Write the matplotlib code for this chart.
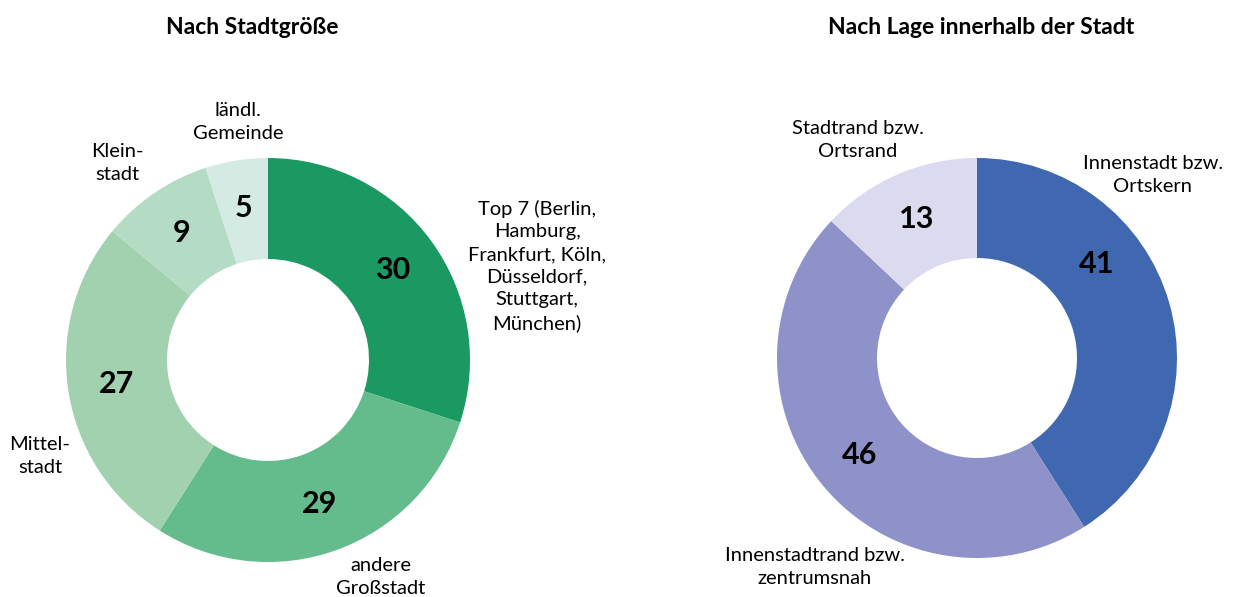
import numpy as np
import matplotlib
matplotlib.use("Agg")
import matplotlib.pyplot as plt

plt.rcParams["font.family"] = ["Lato", "DejaVu Sans"]

# data
size_titles = "Nach Stadtgröße"
size_labels = ["Top 7 (Berlin,\nHamburg,\nFrankfurt, Köln,\nDüsseldorf,\nStuttgart,\nMünchen)",
               "andere\nGroßstadt", "Mittel-\nstadt", "Klein-\nstadt", "ländl.\nGemeinde"]
size_values = [30, 29, 27, 9, 5]
size_colors = ["#1a9a62", "#64bc8d", "#a1d1ae", "#b4dcc4", "#d4ebe3"]

loc_title = "Nach Lage innerhalb der Stadt"
loc_labels = ["Innenstadt bzw.\nOrtskern", "Innenstadtrand bzw.\nzentrumsnah",
              "Stadtrand bzw.\nOrtsrand"]
loc_values = [41, 46, 13]
loc_colors = ["#4068b0", "#8f92c8", "#dcdaee"]

W, H = 1241, 597

fig = plt.figure(figsize=(W / 100, H / 100), dpi=100)
ax = fig.add_axes([0, 0, 1, 1])
ax.set_xlim(0, W)
ax.set_ylim(0, H)
ax.set_aspect("equal")
ax.axis("off")


def donut(center, radius, values, colors, labels, label_pos, val_shift):
    wedges, _ = ax.pie(values, colors=colors, startangle=90, counterclock=False,
                       center=center, radius=radius, frame=True,
                       wedgeprops=dict(width=radius * 0.5, linewidth=0))
    for w, v, shift in zip(wedges, values, val_shift):
        ang = np.deg2rad((w.theta1 + w.theta2) / 2 + shift)
        r = radius * 0.76
        ax.text(center[0] + r * np.cos(ang), center[1] + r * np.sin(ang), str(v),
                ha="center", va="center", fontsize=22, fontweight="bold")
    for lab, (x, y) in zip(labels, label_pos):
        ax.text(x, H - y, lab, ha="center", va="center", fontsize=14.5,
                linespacing=1.4)


donut((268, H - 360), 202, size_values, size_colors, size_labels,
      [(537, 266), (381, 577), (40, 456), (117, 163), (238, 122)],
      [0, 0, 0, 0, 0])
donut((977, H - 358), 200, loc_values, loc_colors, loc_labels,
      [(1153, 175), (815, 567), (858, 140)],
      [22, 0, 0])

ax.set_xlim(0, W)
ax.set_ylim(0, H)
ax.text(252, H - 28, size_titles, ha="center", va="center", fontsize=16.5, fontweight="bold")
ax.text(981, H - 28, loc_title, ha="center", va="center", fontsize=16.5, fontweight="bold")

fig.savefig("out.png", dpi=100)
